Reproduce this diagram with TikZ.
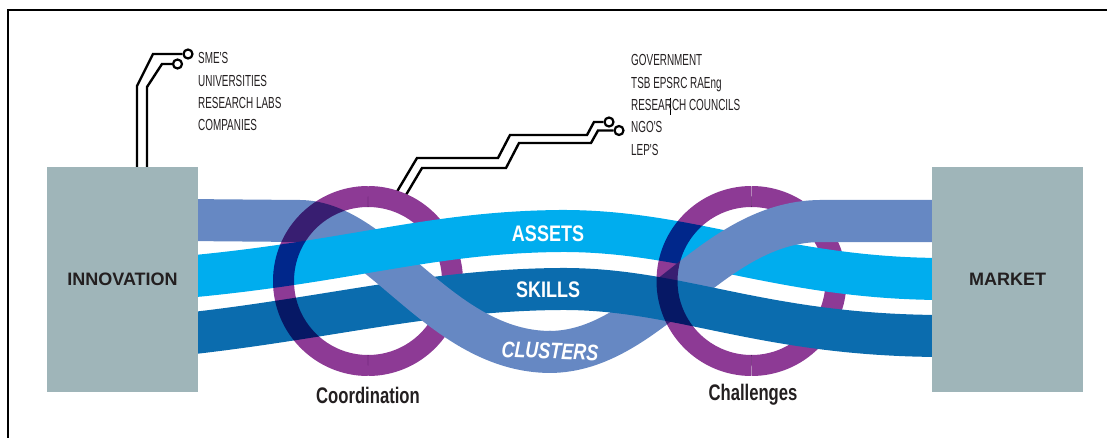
\documentclass[tikz,border=0pt]{standalone}
\usepackage{fontspec}
\setmainfont{Liberation Sans}
\newfontfamily\condfont[FakeStretch=0.62]{Liberation Sans}
\newfontfamily\ringfont[FakeStretch=0.74]{Liberation Sans}
\newfontfamily\ribfont[FakeStretch=0.8]{Liberation Sans}
\definecolor{boxc}{HTML}{9FB5B9}
\definecolor{assetc}{HTML}{00ADEE}
\definecolor{skillc}{HTML}{0B6CAE}
\definecolor{clusterc}{HTML}{6688C3}
\definecolor{ringc}{HTML}{8D3A95}
\definecolor{inkc}{HTML}{231F20}
\tikzset{
  ribbon/.style={line width=42pt, line cap=butt},
  ringarc/.style={draw=ringc, line width=21pt, line cap=butt},
  trace/.style={draw=black, line width=2.4pt, line join=miter},
  term/.style={circle, draw=black, fill=white, line width=2.2pt, inner sep=0pt, minimum size=9pt},
  bigbox/.style={fill=boxc, minimum width=151pt, minimum height=225pt, inner sep=0pt,
    text=inkc, font=\bfseries\fontsize{18}{20}\selectfont},
  lbl/.style={anchor=base west, inner sep=0pt, text=inkc, font=\condfont\fontsize{16}{18}\selectfont},
  ringlbl/.style={anchor=base, inner sep=0pt, text=inkc, font=\ringfont\bfseries\fontsize{22.5}{24}\selectfont},
  riblbl/.style={inner sep=0pt, text=white, font=\ribfont\bfseries\fontsize{22.5}{24}\selectfont},
}
\begin{document}
\begin{tikzpicture}[x=1pt,y=-1pt]
\useasboundingbox (0,0) rectangle (1107,438);
% frame
\draw[line width=2pt] (8,438) -- (8,10.5) -- (1107,10.5);

% ring centres
\coordinate (cA) at (368,281);
\coordinate (cB) at (751.5,281);

% circuit traces (top left)
\node[term] (t1) at (188,54) {};
\node[term] (t2) at (177.5,64) {};
\draw[trace] (137,175) -- (137,86) -- (153,54) -- (t1.west);
\draw[trace] (147,175) -- (147,87) -- (162,64) -- (t2.west);

% circuit traces (top right)
\node[term] (t3) at (609,122) {};
\node[term] (t4) at (619,130.5) {};
\draw[trace] (392,200) -- (417,158) -- (498,158) -- (510,135) -- (587,135) -- (594,122) -- (t3.west);
\draw[trace] (400,205) -- (422,168) -- (506,168) -- (519,143) -- (591,143) -- (598,130.5) -- (t4.west);
\draw[line width=0.8pt] (670,98) -- (670,115);

% right halves of rings (under the ribbons)
\draw[ringarc] (cA) ++(0,-84.5) arc[start angle=-90, end angle=90, radius=84.5];
\draw[ringarc] (cB) ++(0,-84.5) arc[start angle=-90, end angle=90, radius=84.5];

% ribbons, woven
\draw[ribbon, draw=assetc] (559,231) .. controls (690,230) and (780,279) .. (945,279);
\draw[ribbon, draw=clusterc] (549,352) .. controls (650,352) and (710,222) .. (820,221) -- (945,221);
\draw[ribbon, draw=skillc] (185,334) .. controls (330,318) and (430,290) .. (560,289) .. controls (680,288) and (760,336) .. (945,336);
\draw[ribbon, draw=clusterc] (185,220) -- (300,221) .. controls (380,222) and (440,352) .. (551,352);
\draw[ribbon, draw=assetc] (185,277) .. controls (350,262) and (430,232) .. (561,231);

% left halves of rings (over the ribbons)
\begin{scope}[blend mode=multiply]
\draw[ringarc] (cA) ++(0,-84.5) arc[start angle=270, end angle=90, radius=84.5];
\draw[ringarc] (cB) ++(0,-84.5) arc[start angle=270, end angle=90, radius=84.5];
\end{scope}

% ribbon labels
\node[riblbl] (assets) at (548,234) {ASSETS};
\node[riblbl] (skills) at (548,290) {SKILLS};
\node[riblbl, font=\ribfont\bfseries\itshape\fontsize{22.5}{24}\selectfont, rotate=-2] (clusters) at (550,351) {CLUSTERS};

% boxes
\node[bigbox] (inno) at (122.5,279.5) {INNOVATION};
\node[bigbox] (market) at (1007.5,279.5) {MARKET};

% ring labels
\node[ringlbl] (coord) at (368,403) {Coordination};
\node[ringlbl] (chall) at (753,400) {Challenges};

% text lists
\node[lbl] (l1) at (198,64) {SME'S};
\node[lbl] (l2) at (198,86.3) {UNIVERSITIES};
\node[lbl] (l3) at (198,108.6) {RESEARCH LABS};
\node[lbl] (l4) at (198,130.9) {COMPANIES};
\node[lbl] (r1) at (631,66) {GOVERNMENT};
\node[lbl] (r2) at (631,88.3) {TSB EPSRC RAEng};
\node[lbl] (r3) at (631,110.6) {RESEARCH COUNCILS};
\node[lbl] (r4) at (631,132.9) {NGO'S};
\node[lbl] (r5) at (631,155.2) {LEP'S};
\end{tikzpicture}
\end{document}
